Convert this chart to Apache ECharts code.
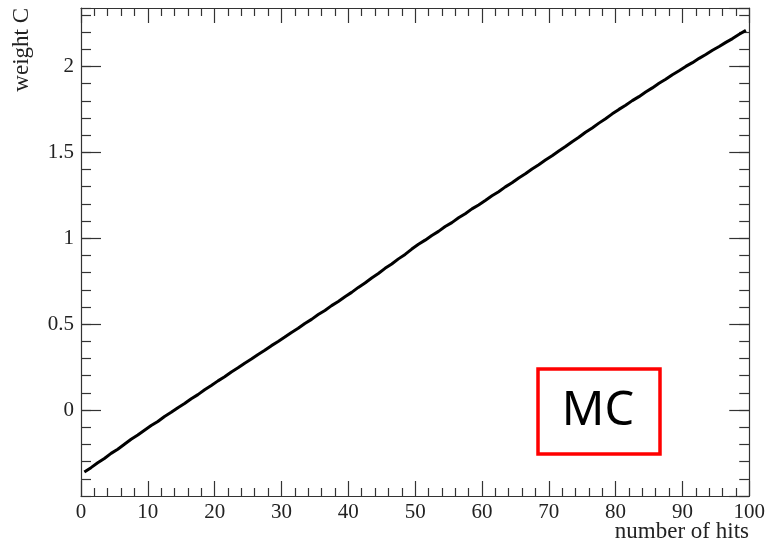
<!DOCTYPE html>
<html><head><meta charset="utf-8">
<script src="https://cdn.jsdelivr.net/npm/echarts@6/dist/echarts.min.js"></script>
<style>html,body{margin:0;padding:0;background:#fff}#c{width:768px;height:547px}</style>
</head><body><div id="c"></div>
<script>
// weight C per bin of "number of hits" (100 bins of width 1, from 0 to 100)
const weightC = [
  -0.360, -0.335, -0.307, -0.282, -0.252, -0.228, -0.199, -0.170, -0.145, -0.117,
  -0.090, -0.066, -0.037, -0.013, 0.014, 0.038, 0.066, 0.090, 0.118, 0.143,
  0.170, 0.194, 0.222, 0.246, 0.273, 0.297, 0.324, 0.348, 0.375, 0.399,
  0.425, 0.452, 0.476, 0.504, 0.528, 0.556, 0.580, 0.608, 0.632, 0.660,
  0.685, 0.714, 0.740, 0.769, 0.795, 0.825, 0.850, 0.880, 0.906, 0.937,
  0.965, 0.989, 1.016, 1.040, 1.068, 1.091, 1.119, 1.143, 1.171, 1.194,
  1.220, 1.247, 1.271, 1.299, 1.323, 1.351, 1.375, 1.403, 1.428, 1.455,
  1.480, 1.508, 1.534, 1.562, 1.588, 1.617, 1.642, 1.670, 1.696, 1.724,
  1.750, 1.774, 1.801, 1.824, 1.851, 1.875, 1.902, 1.925, 1.952, 1.975,
  2.000, 2.022, 2.047, 2.069, 2.094, 2.116, 2.140, 2.162, 2.187, 2.210
];
const binLow = 0;
const binWidth = 1;
const xTitle = 'number of hits';
const yTitle = 'weight C';
const boxLabel = 'MC';

const binCenters = weightC.map((_, i) => binLow + (i + 0.5) * binWidth);
const seriesData = weightC.map((v, i) => [binCenters[i], v]);

const SERIF = '"Liberation Serif", "DejaVu Serif", serif';
const AX = '#333';

function xAx(pos, labels) {
  return {
    type: 'value', position: pos, min: 0, max: 100, interval: 10,
    axisLine: { show: true, onZero: false, lineStyle: { color: AX, width: 1.2 } },
    axisTick: { show: true, inside: true, length: 15, lineStyle: { color: AX, width: 1.2 } },
    minorTick: { show: true, splitNumber: 5, length: 8, lineStyle: { color: AX, width: 1.2 } },
    splitLine: { show: false },
    axisLabel: { show: labels, fontFamily: SERIF, fontSize: 21, color: '#222', margin: 6 }
  };
}
function yMajor(pos, labels) {
  return {
    type: 'value', position: pos, min: -0.5, max: 2.34, interval: 0.5,
    axisLine: { show: true, onZero: false, lineStyle: { color: AX, width: 1.2 } },
    axisTick: { show: true, inside: true, length: 20, lineStyle: { color: AX, width: 1.2 } },
    splitLine: { show: false },
    axisLabel: { show: labels, showMinLabel: false, showMaxLabel: false,
      fontFamily: SERIF, fontSize: 21, color: '#222', margin: 7 }
  };
}
function yMinor(pos) {
  return {
    type: 'value', position: pos, min: -0.5, max: 2.34, interval: 0.1,
    axisLine: { show: false, onZero: false },
    axisTick: { show: true, inside: true, length: 10, lineStyle: { color: AX, width: 1.2 } },
    splitLine: { show: false },
    axisLabel: { show: false }
  };
}

const chart = echarts.init(document.getElementById('c'), null, { renderer: 'canvas' });
chart.setOption({
  animation: false,
  backgroundColor: '#fff',
  grid: { left: 81, top: 8, right: 17, bottom: 51, containLabel: false },
  xAxis: [xAx('bottom', true), xAx('top', false)],
  yAxis: [yMajor('left', true), yMinor('left'), yMajor('right', false), yMinor('right')],
  series: [{
    type: 'line', xAxisIndex: 0, yAxisIndex: 0, data: seriesData,
    showSymbol: false, symbol: 'none',
    lineStyle: { color: '#000', width: 3 }
  }],
  graphic: [
    { type: 'text', x: 22, y: 8, rotation: Math.PI / 2,
      style: { text: yTitle, font: '23px ' + SERIF, fill: '#222', align: 'right', verticalAlign: 'middle' } },
    { type: 'text', x: 749, y: 532,
      style: { text: xTitle, font: '23px ' + SERIF, fill: '#222', align: 'right', verticalAlign: 'middle' } },
    { type: 'rect', shape: { x: 538, y: 369, width: 122, height: 85 },
      style: { fill: 'none', stroke: '#f00', lineWidth: 3.5 } },
    { type: 'text', x: 598, y: 412,
      style: { text: boxLabel, font: '47px "Noto Sans", "Open Sans", sans-serif', fill: '#000', align: 'center', verticalAlign: 'middle' } }
  ]
});
</script>
</body></html>
